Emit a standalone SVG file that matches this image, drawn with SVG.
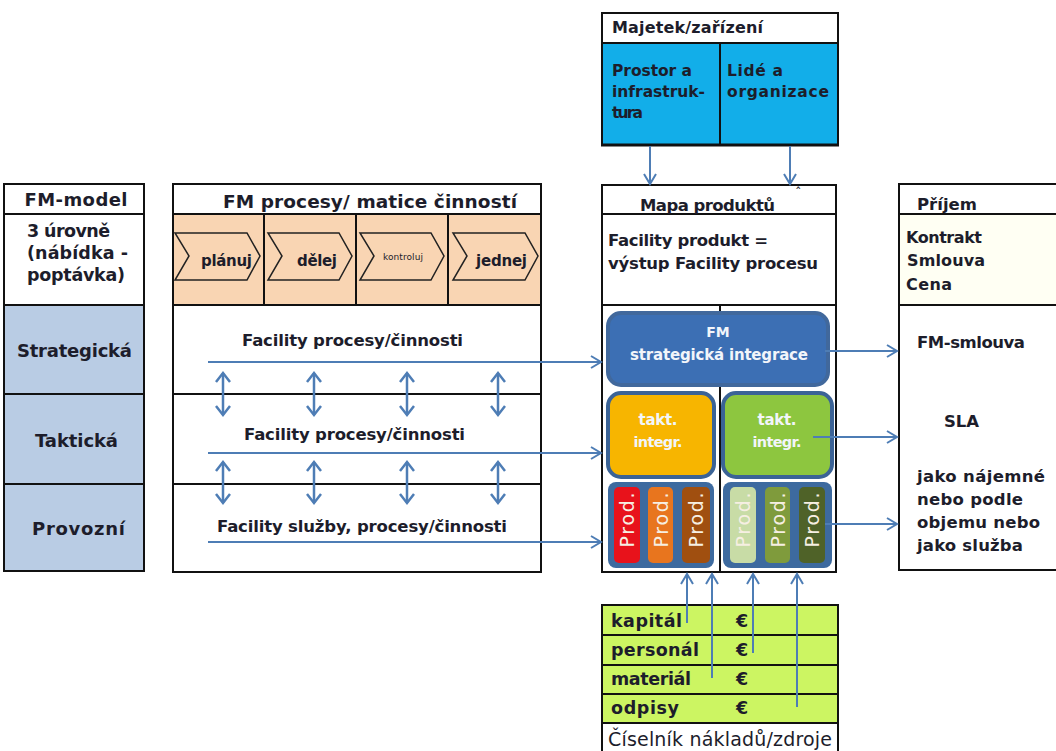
<svg xmlns="http://www.w3.org/2000/svg" width="1056" height="751" viewBox="0 0 1056 751">
<style>
.b{fill:none;stroke:#111;stroke-width:2}
.ln{stroke:#111;stroke-width:2}
.t{font-family:"DejaVu Sans",Verdana,sans-serif;font-weight:bold;fill:#1d1d2b}
.n{font-family:"DejaVu Sans",Verdana,sans-serif;fill:#1d1d2b}
.w{font-family:"DejaVu Sans",Verdana,sans-serif;font-weight:bold;fill:#f2f5fa}
.p{font-family:"DejaVu Sans",Verdana,sans-serif;fill:#f6efe2;font-size:19px}
.c{stroke:#4e7db5;stroke-width:2;fill:none}
.d{stroke:#4e7db5;stroke-width:2.5;fill:none}
.chev{fill:none;stroke:#222;stroke-width:1.5}
.bar{stroke:none}
</style>
<defs>
<marker id="ah" markerUnits="userSpaceOnUse" markerWidth="16" markerHeight="16" viewBox="0 0 16 16" refX="14" refY="8" orient="auto-start-reverse">
<path d="M4,2 L14,8 L4,14" fill="none" stroke="#4e7db5" stroke-width="2"/>
</marker>
<marker id="ah2" markerUnits="userSpaceOnUse" markerWidth="18" markerHeight="18" viewBox="0 0 18 18" refX="15" refY="9" orient="auto-start-reverse">
<path d="M6,2 L15,9 L6,16" fill="none" stroke="#4e7db5" stroke-width="2.5"/>
</marker>
</defs>
<rect width="1056" height="751" fill="#ffffff"/>

<g id="majetek">
<rect x="602" y="13" width="236" height="132" fill="#12aee9"/>
<rect x="602" y="13" width="236" height="30" fill="#ffffff"/>
<rect class="b" x="602" y="13" width="236" height="132"/>
<line class="ln" x1="602" y1="43" x2="838" y2="43"/>
<line class="ln" x1="720" y1="43" x2="720" y2="145"/>
<line stroke="#111" stroke-width="3" x1="601" y1="145" x2="839" y2="145"/>
<text class="t" x="612" y="33" font-size="16" textLength="151">Majetek/zařízení</text>
<text class="t" x="612" y="76" font-size="15.5" textLength="80">Prostor a</text>
<text class="t" x="612" y="97" font-size="15.5" textLength="93">infrastruk-</text>
<text class="t" x="612" y="118" font-size="15.5" textLength="31">tura</text>
<text class="t" x="727" y="76" font-size="15.5" textLength="56">Lidé a</text>
<text class="t" x="727" y="97" font-size="15.5" textLength="102">organizace</text>
</g>

<g id="fm-model">
<rect x="4" y="305" width="140" height="266" fill="#b9cce4"/>
<rect class="b" x="4" y="184" width="140" height="387"/>
<line class="ln" x1="4" y1="214" x2="144" y2="214"/>
<line class="ln" x1="4" y1="305" x2="144" y2="305"/>
<line class="ln" x1="4" y1="394" x2="144" y2="394"/>
<line class="ln" x1="4" y1="484" x2="144" y2="484"/>
<text class="t" x="76" y="206" font-size="18" text-anchor="middle" textLength="103">FM-model</text>
<text class="t" x="27" y="237" font-size="17.5" textLength="83">3 úrovně</text>
<text class="t" x="27" y="259" font-size="17.5" textLength="101">(nábídka -</text>
<text class="t" x="27" y="281" font-size="17.5" textLength="98">poptávka)</text>
<text class="t" x="74.5" y="357" font-size="18" text-anchor="middle" textLength="115">Strategická</text>
<text class="t" x="76.5" y="447" font-size="18" text-anchor="middle" textLength="83">Taktická</text>
<text class="t" x="78.5" y="535" font-size="18" text-anchor="middle" textLength="93">Provozní</text>
</g>

<g id="fm-procesy">
<rect x="173" y="214" width="368" height="91" fill="#f9d5b3"/>
<rect class="b" x="173" y="184" width="368" height="388"/>
<line class="ln" x1="173" y1="214" x2="541" y2="214"/>
<line class="ln" x1="173" y1="305" x2="541" y2="305"/>
<line class="ln" x1="173" y1="394" x2="541" y2="394"/>
<line class="ln" x1="173" y1="484" x2="541" y2="484"/>
<line class="ln" x1="264" y1="214" x2="264" y2="305"/>
<line class="ln" x1="356" y1="214" x2="356" y2="305"/>
<line class="ln" x1="448" y1="214" x2="448" y2="305"/>
<polygon class="chev" points="175,233 247,233 260,256 247,280 175,280 189,256"/>
<polygon class="chev" points="268,233 339,233 352,256 339,280 268,280 282,256"/>
<polygon class="chev" points="360,233 431,233 444,256 431,280 360,280 374,256"/>
<polygon class="chev" points="453,233 525,233 538,256 525,280 453,280 467,256"/>
<text class="t" x="370" y="208" font-size="18.5" text-anchor="middle" textLength="294">FM procesy/ matice činností</text>
<text class="t" x="201" y="266" font-size="15" textLength="51">plánuj</text>
<text class="t" x="297" y="266" font-size="15" textLength="40">dělej</text>
<text class="n" x="383" y="260" font-size="9" textLength="40">kontroluj</text>
<text class="t" x="476" y="266" font-size="15" textLength="51">jednej</text>
<text class="t" x="352.5" y="346" font-size="16.5" text-anchor="middle" textLength="221">Facility procesy/činnosti</text>
<text class="t" x="354.5" y="440" font-size="16.5" text-anchor="middle" textLength="221">Facility procesy/činnosti</text>
<text class="t" x="362" y="532" font-size="16.5" text-anchor="middle" textLength="290">Facility služby, procesy/činnosti</text>
</g>

<g id="mapa-produktu">
<rect class="b" x="602" y="185" width="234" height="387"/>
<line class="ln" x1="602" y1="214" x2="836" y2="214"/>
<line class="ln" x1="602" y1="305" x2="836" y2="305"/>
<line class="ln" x1="720" y1="305" x2="720" y2="572"/>
<text class="t" x="640" y="211" font-size="16.5" textLength="135">Mapa produktů</text>
<text class="n" x="795" y="197" font-size="13">ˆ</text>
<text class="t" x="608" y="246" font-size="16.5" textLength="160">Facility produkt =</text>
<text class="t" x="608" y="269" font-size="16.5" textLength="210">výstup Facility procesu</text>
</g>

<g id="fm-strategicka">
<rect x="608" y="313" width="220" height="72" rx="13" fill="#3c6fb4" stroke="#41689c" stroke-width="4"/>
<text class="w" x="718" y="337" font-size="14" text-anchor="middle">FM</text>
<text class="w" x="719" y="360" font-size="15" text-anchor="middle" textLength="178">strategická integrace</text>
</g>

<g id="takt-orange">
<rect x="608" y="393" width="106" height="84" rx="13" fill="#f7b500" stroke="#3b6396" stroke-width="4"/>
<text class="w" x="658" y="425" font-size="15" text-anchor="middle" textLength="39">takt.</text>
<text class="w" x="658" y="447" font-size="14.5" text-anchor="middle" textLength="49">integr.</text>
</g>

<g id="takt-green">
<rect x="723" y="393" width="109" height="84" rx="13" fill="#8dc63f" stroke="#3b6396" stroke-width="4"/>
<text class="w" x="777" y="425" font-size="15" text-anchor="middle" textLength="39">takt.</text>
<text class="w" x="777" y="447" font-size="14.5" text-anchor="middle" textLength="49">integr.</text>
</g>

<g id="prod-left">
<rect x="608" y="482" width="106" height="86" rx="8" fill="#3d6a9f"/>
<rect class="bar" x="614" y="487" width="26" height="76" rx="5" fill="#e8121b"/>
<rect class="bar" x="648" y="487" width="25" height="76" rx="5" fill="#e8751e"/>
<rect class="bar" x="682" y="487" width="28" height="76" rx="5" fill="#a04f10"/>
<text class="p" transform="translate(634,520) rotate(-90)" text-anchor="middle" textLength="55">Prod.</text>
<text class="p" transform="translate(667.5,520) rotate(-90)" text-anchor="middle" textLength="55">Prod.</text>
<text class="p" transform="translate(703,520) rotate(-90)" text-anchor="middle" textLength="55">Prod.</text>
</g>

<g id="prod-right">
<rect x="723" y="482" width="109" height="86" rx="8" fill="#3d6a9f"/>
<rect class="bar" x="730" y="487" width="26" height="76" rx="5" fill="#c8dca6"/>
<rect class="bar" x="765" y="487" width="25" height="76" rx="5" fill="#7f9b3c"/>
<rect class="bar" x="799" y="487" width="26" height="76" rx="5" fill="#4f6228"/>
<text class="p" transform="translate(750,520) rotate(-90)" text-anchor="middle" textLength="55">Prod.</text>
<text class="p" transform="translate(784.5,520) rotate(-90)" text-anchor="middle" textLength="55">Prod.</text>
<text class="p" transform="translate(819,520) rotate(-90)" text-anchor="middle" textLength="55">Prod.</text>
</g>

<g id="prijem">
<rect x="899" y="214" width="170" height="91" fill="#fffff3"/>
<rect class="b" x="899" y="184" width="170" height="386"/>
<line class="ln" x1="899" y1="214" x2="1056" y2="214"/>
<line class="ln" x1="899" y1="305" x2="1056" y2="305"/>
<text class="t" x="917" y="210" font-size="16.5" textLength="60">Příjem</text>
<text class="t" x="906" y="243" font-size="16" textLength="76">Kontrakt</text>
<text class="t" x="907" y="266" font-size="16" textLength="78">Smlouva</text>
<text class="t" x="906" y="290" font-size="16" textLength="46">Cena</text>
<text class="t" x="917" y="348" font-size="16.5" textLength="108">FM-smlouva</text>
<text class="t" x="944" y="427" font-size="16.5" textLength="35">SLA</text>
<text class="t" x="917" y="482" font-size="16.5" textLength="128">jako nájemné</text>
<text class="t" x="917" y="505" font-size="16.5" textLength="106">nebo podle</text>
<text class="t" x="917" y="528" font-size="16.5" textLength="123">objemu nebo</text>
<text class="t" x="917" y="551" font-size="16.5" textLength="106">jako služba</text>
</g>

<g id="ciselnik">
<rect x="602" y="605" width="236" height="118" fill="#ccf562"/>
<rect x="602" y="723" width="236" height="40" fill="#ffffff"/>
<rect class="b" x="602" y="605" width="236" height="158"/>
<line class="ln" x1="602" y1="635" x2="838" y2="635"/>
<line class="ln" x1="602" y1="665" x2="838" y2="665"/>
<line class="ln" x1="602" y1="694" x2="838" y2="694"/>
<line class="ln" x1="602" y1="723" x2="838" y2="723"/>
<text class="t" x="611" y="627" font-size="17.5" textLength="71">kapitál</text>
<text class="t" x="611" y="656" font-size="17.5" textLength="88">personál</text>
<text class="t" x="611" y="685" font-size="17.5" textLength="80">materiál</text>
<text class="t" x="611" y="714" font-size="17.5" textLength="68">odpisy</text>
<text class="t" x="736" y="627" font-size="17.5">€</text>
<text class="t" x="736" y="656" font-size="17.5">€</text>
<text class="t" x="736" y="685" font-size="17.5">€</text>
<text class="t" x="736" y="714" font-size="17.5">€</text>
<text class="n" x="608" y="746" font-size="19" textLength="224">Číselník nákladů/zdroje</text>
</g>

<g id="connectors">
<line class="c" x1="650" y1="146" x2="650" y2="184" marker-end="url(#ah)"/>
<line class="c" x1="790" y1="146" x2="790" y2="184" marker-end="url(#ah)"/>
<line class="c" x1="208" y1="362" x2="601" y2="362" marker-end="url(#ah)"/>
<line class="c" x1="208" y1="453" x2="601" y2="453" marker-end="url(#ah)"/>
<line class="c" x1="208" y1="542" x2="601" y2="542" marker-end="url(#ah)"/>
<line class="d" x1="223" y1="373" x2="223" y2="415" marker-start="url(#ah2)" marker-end="url(#ah2)"/>
<line class="d" x1="314" y1="373" x2="314" y2="415" marker-start="url(#ah2)" marker-end="url(#ah2)"/>
<line class="d" x1="407" y1="373" x2="407" y2="415" marker-start="url(#ah2)" marker-end="url(#ah2)"/>
<line class="d" x1="498" y1="373" x2="498" y2="415" marker-start="url(#ah2)" marker-end="url(#ah2)"/>
<line class="d" x1="223" y1="462" x2="223" y2="503" marker-start="url(#ah2)" marker-end="url(#ah2)"/>
<line class="d" x1="314" y1="462" x2="314" y2="503" marker-start="url(#ah2)" marker-end="url(#ah2)"/>
<line class="d" x1="407" y1="462" x2="407" y2="503" marker-start="url(#ah2)" marker-end="url(#ah2)"/>
<line class="d" x1="498" y1="462" x2="498" y2="503" marker-start="url(#ah2)" marker-end="url(#ah2)"/>
<line class="c" x1="825" y1="351" x2="897" y2="351" marker-end="url(#ah)"/>
<line class="c" x1="813" y1="437" x2="897" y2="437" marker-end="url(#ah)"/>
<line class="c" x1="825" y1="524" x2="897" y2="524" marker-end="url(#ah)"/>
<line class="c" x1="687" y1="623" x2="687" y2="574" marker-end="url(#ah)"/>
<line class="c" x1="712" y1="678" x2="712" y2="574" marker-end="url(#ah)"/>
<line class="c" x1="753" y1="653" x2="753" y2="574" marker-end="url(#ah)"/>
<line class="c" x1="797" y1="707" x2="797" y2="574" marker-end="url(#ah)"/>
</g>
</svg>
